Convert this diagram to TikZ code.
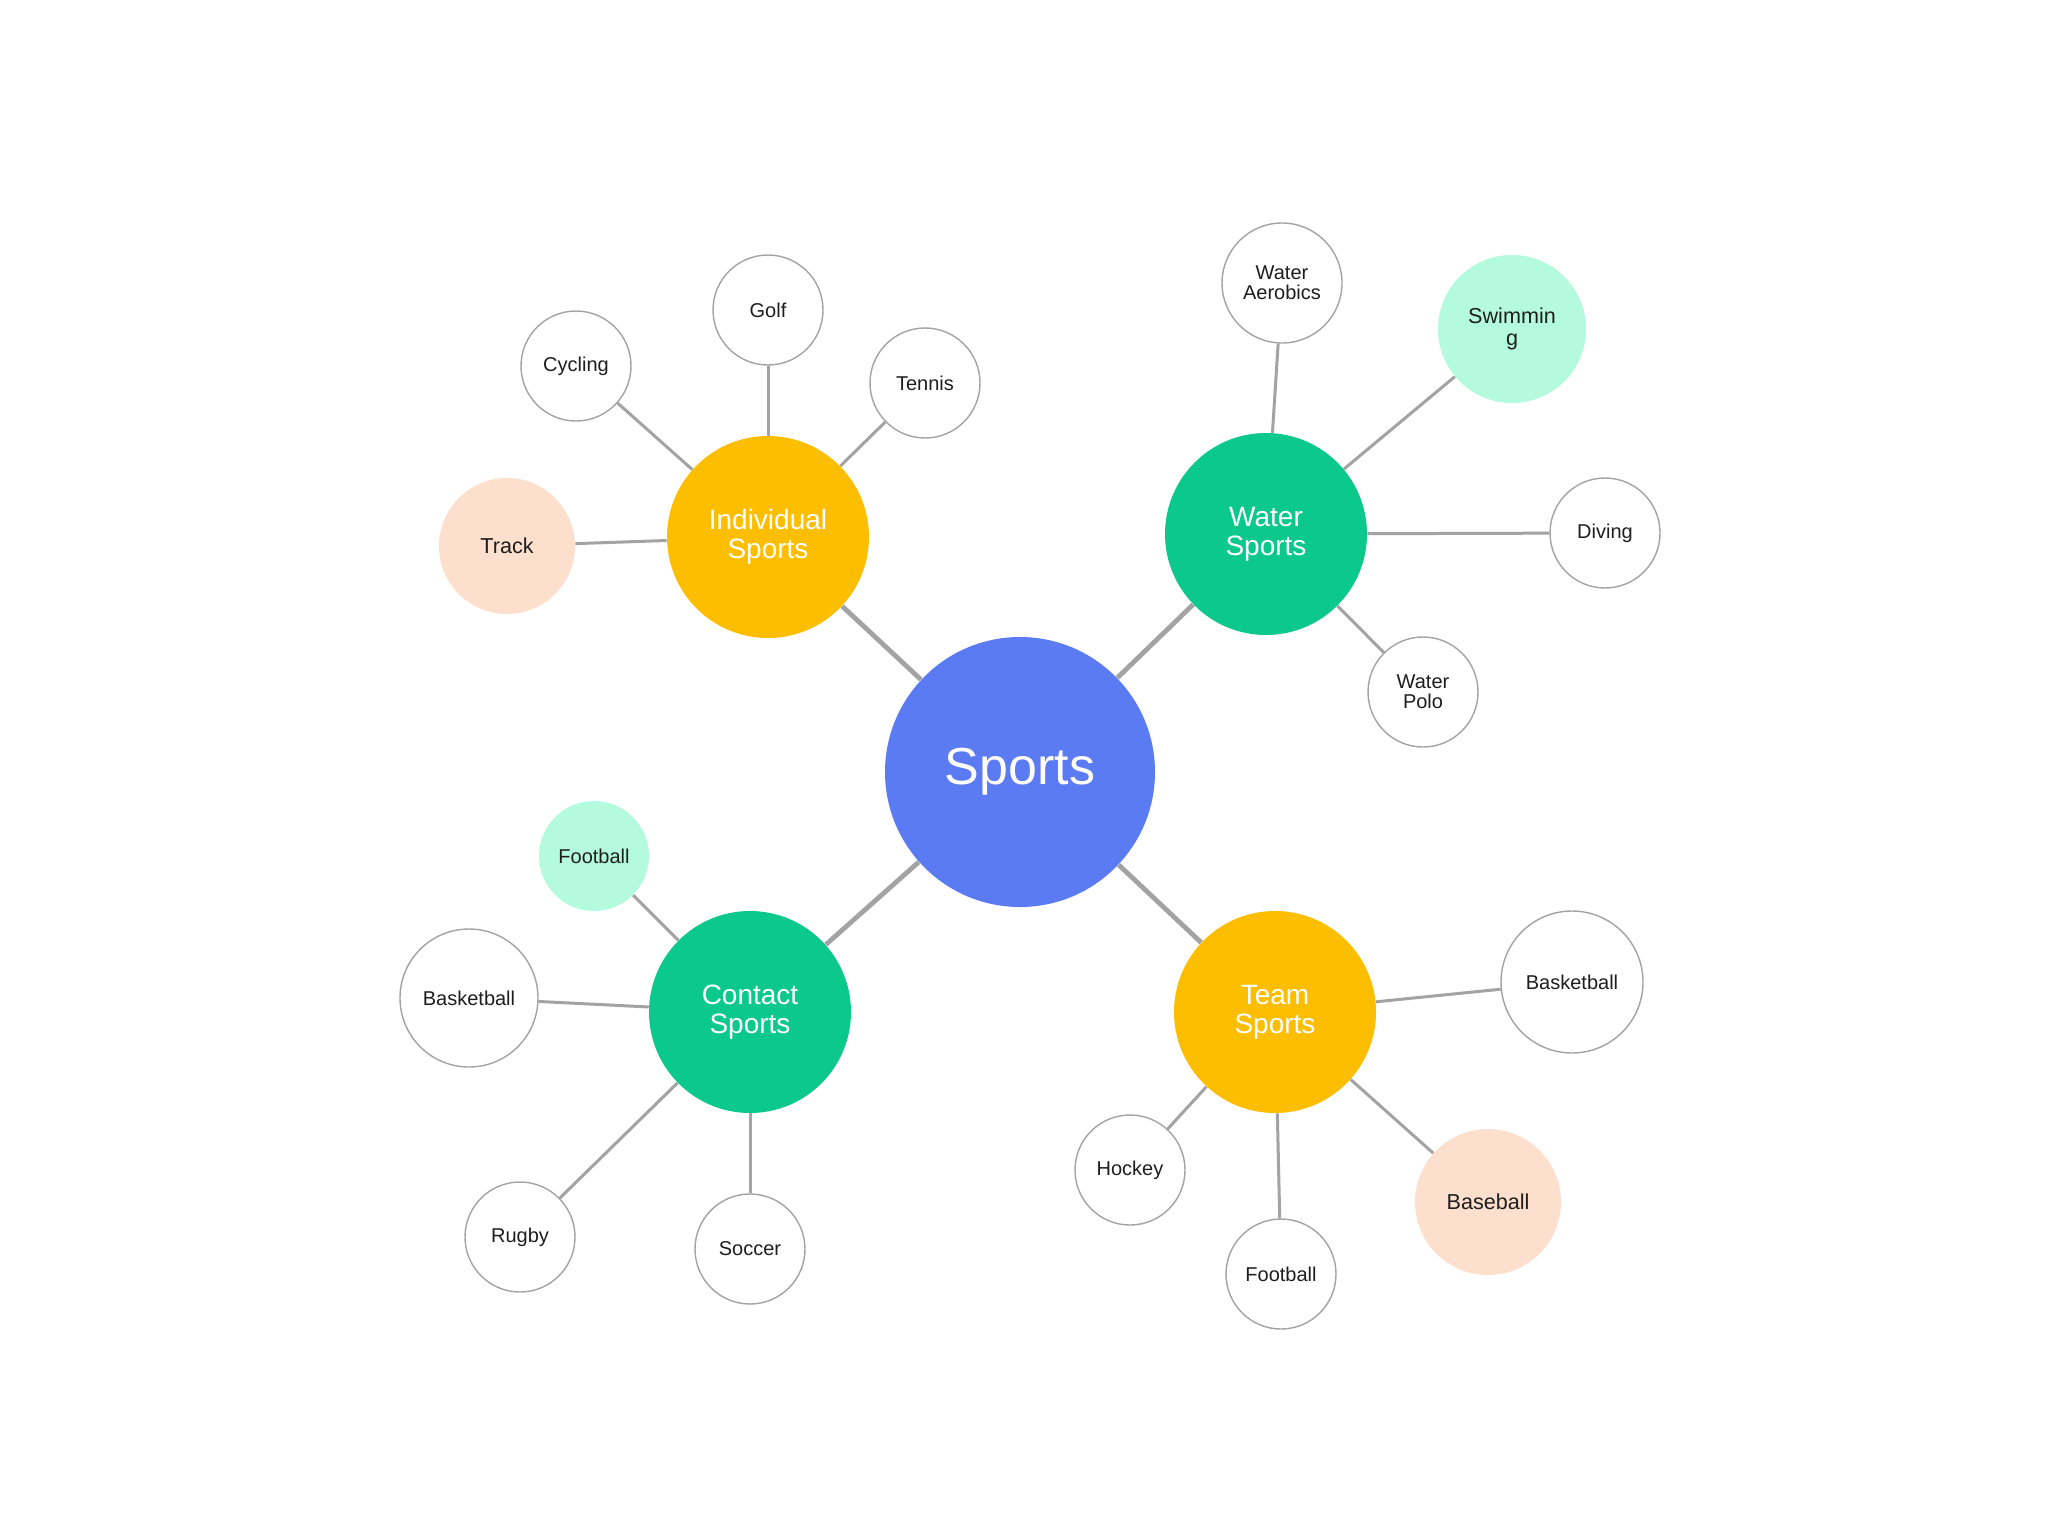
\documentclass[tikz,border=0pt]{standalone}
\usepackage{fontspec}
\setmainfont{Liberation Sans}
\definecolor{sblue}{HTML}{5B7BF2}
\definecolor{syellow}{HTML}{FDBE00}
\definecolor{sgreen}{HTML}{0BC98B}
\definecolor{lgreen}{HTML}{B4FADF}
\definecolor{peach}{HTML}{FCE0CD}
\definecolor{lgray}{HTML}{A3A3A3}
\definecolor{txt}{HTML}{1E1E1E}
\tikzset{
  hub/.style={circle, inner sep=0pt, minimum size=101pt, text=white, align=center, font=\fontsize{14}{14.5}\selectfont},
  leaf/.style={circle, inner sep=0pt, minimum size=55pt, draw=lgray, line width=0.7pt, fill=white, text=txt, align=center, font=\fontsize{10}{10}\selectfont},
  bigleaf/.style={leaf, minimum size=69pt},
  cleaf/.style={circle, inner sep=0pt, text=txt, align=center, font=\fontsize{10.8}{11}\selectfont},
  trunk/.style={lgray, line width=2.4pt},
  twig/.style={lgray, line width=1.5pt}
}
\begin{document}
\begin{tikzpicture}[x=0.5pt,y=-0.5pt]
\useasboundingbox (0,0) rectangle (2048,1536);
\fill[white] (0,0) rectangle (2048,1536);
% center
\node[circle, inner sep=0pt, minimum size=135pt, fill=sblue, text=white, font=\fontsize{26}{26}\selectfont] (sports) at (1020,772) {\raisebox{-2pt}{Sports}};
% hubs
\node[hub, fill=syellow] (ind) at (768,537) {Individual\\Sports};
\node[hub, fill=sgreen] (wat) at (1266,534) {Water\\Sports};
\node[hub, fill=sgreen] (con) at (750,1012) {Contact\\Sports};
\node[hub, fill=syellow] (team) at (1275,1012) {Team\\Sports};
% individual leaves
\node[leaf] (golf) at (768,310) {Golf};
\node[leaf] (cyc) at (576,366) {Cycling};
\node[leaf] (ten) at (925,383) {Tennis};
\node[cleaf, fill=peach, minimum size=68pt] (track) at (507,546) {Track};
% water leaves
\node[leaf, minimum size=60pt] (aero) at (1282,283) {Water\\Aerobics};
\node[cleaf, fill=lgreen, minimum size=74pt] (swim) at (1512,329) {Swimmin\\g};
\node[leaf] (dive) at (1605,533) {Diving};
\node[leaf] (polo) at (1423,692) {Water\\Polo};
% contact leaves
\node[cleaf, fill=lgreen, minimum size=55pt, font=\fontsize{10}{10}\selectfont] (cfoot) at (594,856) {Football};
\node[bigleaf] (cbask) at (469,998) {Basketball};
\node[leaf] (rugby) at (520,1237) {Rugby};
\node[leaf] (soccer) at (750,1249) {Soccer};
% team leaves
\node[bigleaf, minimum size=71pt] (tbask) at (1572,982) {Basketball};
\node[leaf] (hockey) at (1130,1170) {Hockey};
\node[leaf] (tfoot) at (1281,1274) {Football};
\node[cleaf, fill=peach, minimum size=73pt] (base) at (1488,1202) {Baseball};
% connectors
\draw[trunk] (sports) -- (ind);
\draw[trunk] (sports) -- (wat);
\draw[trunk] (sports) -- (con);
\draw[trunk] (sports) -- (team);
\draw[twig] (ind) -- (golf);
\draw[twig] (ind) -- (cyc);
\draw[twig] (ind) -- (ten);
\draw[twig] (ind) -- (track);
\draw[twig] (wat) -- (aero);
\draw[twig] (wat) -- (swim);
\draw[twig] (wat) -- (dive);
\draw[twig] (wat) -- (polo);
\draw[twig] (con) -- (cfoot);
\draw[twig] (con) -- (cbask);
\draw[twig] (con) -- (rugby);
\draw[twig] (con) -- (soccer);
\draw[twig] (team) -- (tbask);
\draw[twig] (team) -- (hockey);
\draw[twig] (team) -- (tfoot);
\draw[twig] (team) -- (base);
\end{tikzpicture}
\end{document}
